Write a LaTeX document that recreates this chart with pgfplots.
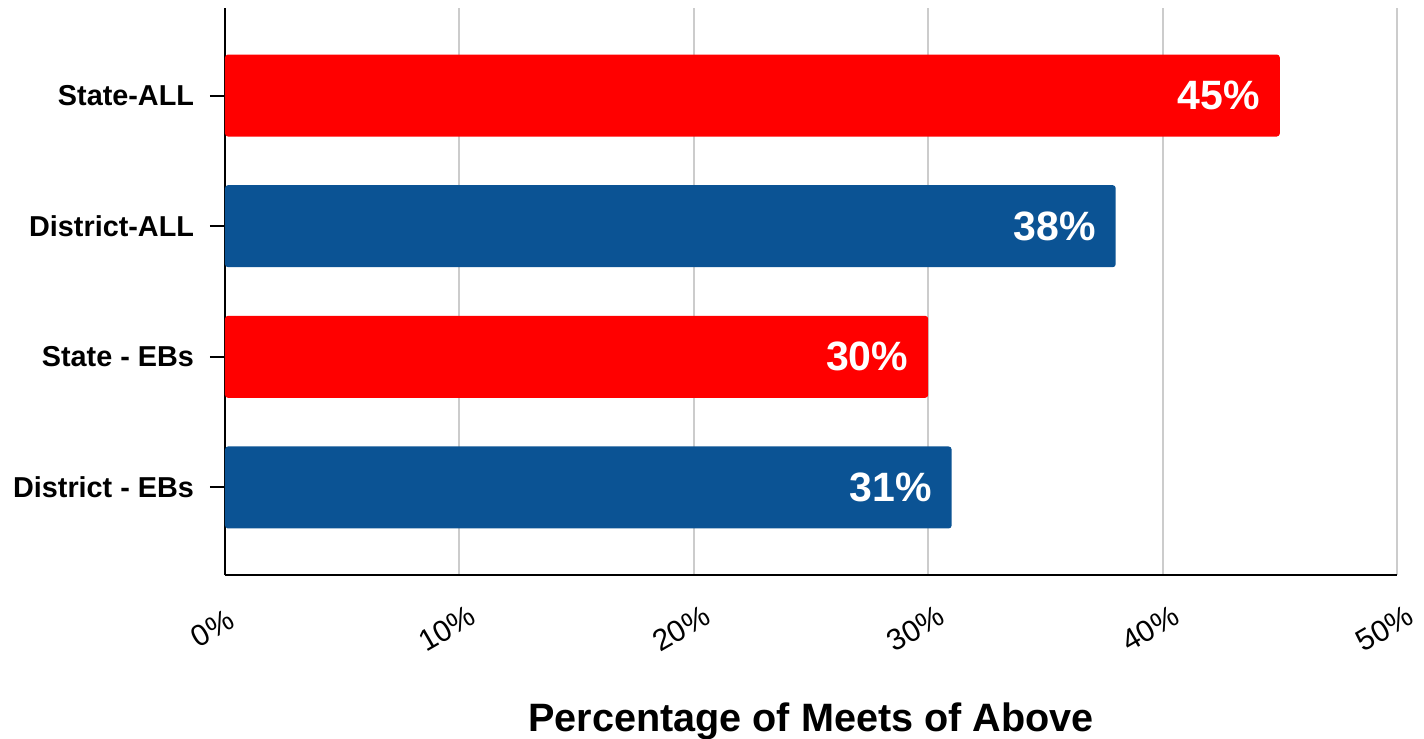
\documentclass[border=0pt]{standalone}
\usepackage{fontspec}
\setmainfont{Liberation Sans}
\usepackage{pgfplots}
\pgfplotsset{compat=1.18}
\definecolor{barred}{HTML}{FF0000}
\definecolor{barblue}{HTML}{0B5394}
\begin{document}
\begin{tikzpicture}
\begin{axis}[
 scale only axis, width=586bp, height=283.5bp,
 xbar, bar width=41bp, bar shift=0pt,
 xmin=0, xmax=50, ymin=-0.67, ymax=3.67,
 axis lines*=left,
 axis line style={black, line width=1bp},
 xtick={0,10,20,30,40,50}, xticklabels={0\%,10\%,20\%,30\%,40\%,50\%},
 xmajorgrids, major grid style={black!20, line width=1bp},
 x tick style={draw=none},
 ytick={0,1,2,3}, yticklabels={District - EBs, State - EBs, District-ALL, State-ALL},
 y tick style={black, line width=1bp},
 major tick length=15bp, tick align=center,
 yticklabel style={font=\bfseries\fontsize{14.4bp}{16bp}\selectfont, xshift=-4.5bp},
 xticklabel style={font=\fontsize{15bp}{17bp}\selectfont, rotate=30, anchor=center, xshift=-15bp, yshift=-13.5bp},
 xlabel={Percentage of Meets of Above},
 xlabel style={font=\bfseries\fontsize{19.8bp}{24bp}\selectfont, at={(axis description cs:0.5,0)}, anchor=center, yshift=-73bp},
 nodes near coords={\pgfmathprintnumber{\pgfplotspointmeta}\%},
 every node near coord/.append style={anchor=east, xshift=-6.5bp, text=white, font=\bfseries\fontsize{20.5bp}{24bp}\selectfont},
 /pgf/number format/assume math mode=true,
 clip=false,
]
\addplot[fill=barred, draw=none, rounded corners=1.5bp] coordinates {(45,3) (30,1)};
\addplot[fill=barblue, draw=none, rounded corners=1.5bp] coordinates {(38,2) (31,0)};
\coordinate (bl) at (rel axis cs:0,0);
\coordinate (tr) at (rel axis cs:1,1);
\end{axis}
\pgfresetboundingbox
\path ([shift={(-112.5bp,-82bp)}]bl) rectangle ([shift={(13.5bp,4bp)}]tr);
\end{tikzpicture}
\end{document}
